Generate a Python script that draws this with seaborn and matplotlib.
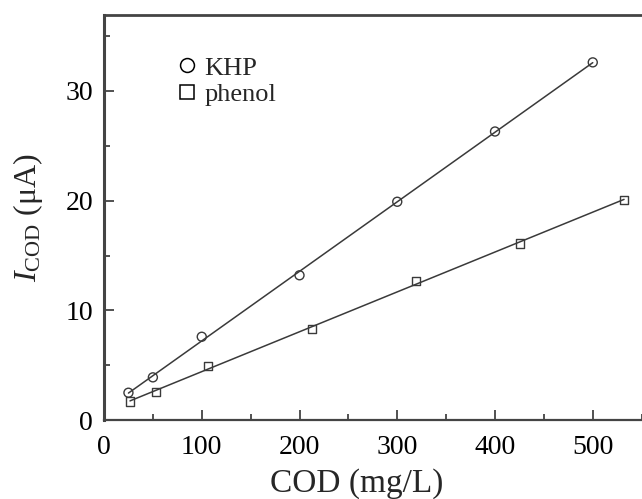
import numpy as np
import pandas as pd
import seaborn as sns
import matplotlib.pyplot as plt
from matplotlib.lines import Line2D
from matplotlib.ticker import MultipleLocator

# data
khp_cod = [25, 50, 100, 200, 300, 400, 500]
khp_i = [2.5, 3.9, 7.6, 13.2, 19.9, 26.3, 32.6]
phenol_cod = [26.6, 53.2, 106.4, 212.8, 319.2, 425.6, 532]
phenol_i = [1.7, 2.6, 4.9, 8.3, 12.7, 16.1, 20.1]

df_khp = pd.DataFrame({'cod': khp_cod, 'i': khp_i})
df_phenol = pd.DataFrame({'cod': phenol_cod, 'i': phenol_i})

sns.set_style('ticks')
plt.rcParams['font.family'] = ['Liberation Serif', 'DejaVu Serif']
plt.rcParams['mathtext.fontset'] = 'custom'
plt.rcParams['mathtext.rm'] = 'Liberation Serif'
plt.rcParams['mathtext.it'] = 'Liberation Serif:italic'

fig = plt.figure(figsize=(6.42, 4.99), dpi=100)
# right spine falls just outside the canvas, like the cropped original
ax = fig.add_axes([0.162, 0.158, 0.842, 0.8116])

line_col = '#3a3a3a'
# fitted lines
sns.regplot(x='cod', y='i', data=df_khp, scatter=False, ci=None, ax=ax,
            color=line_col, line_kws={'lw': 1.1})
sns.regplot(x='cod', y='i', data=df_phenol, scatter=False, ci=None, ax=ax,
            color=line_col, line_kws={'lw': 1.1})
# hollow markers
sns.scatterplot(x='cod', y='i', data=df_khp, marker='o', s=42, ax=ax,
                facecolor='none', edgecolor=line_col, linewidth=1.0, zorder=3)
sns.scatterplot(x='cod', y='i', data=df_phenol, marker='s', s=34, ax=ax,
                facecolor='none', edgecolor=line_col, linewidth=1.0, zorder=3)

ax.set_xlim(0, 553)
ax.set_ylim(0, 36.9)
ax.xaxis.set_major_locator(MultipleLocator(100))
ax.xaxis.set_minor_locator(MultipleLocator(50))
ax.yaxis.set_major_locator(MultipleLocator(10))
ax.yaxis.set_minor_locator(MultipleLocator(5))
ax.tick_params(which='both', direction='in', colors='#333333', labelcolor='black',
               labelsize=20, width=1.2)
ax.tick_params(which='major', length=7)
ax.tick_params(which='minor', length=4)
ax.tick_params(axis='x', pad=11)
ax.tick_params(axis='y', pad=8)

for side in ['left', 'bottom', 'top', 'right']:
    ax.spines[side].set_color('#444444')
ax.spines['left'].set_linewidth(2.2)
ax.spines['bottom'].set_linewidth(1.6)
ax.spines['top'].set_linewidth(2.0)
ax.spines['right'].set_linewidth(2.0)

ax.set_xlabel('COD (mg/L)', fontsize=24)
ax.xaxis.set_label_coords(0.467, -0.118)
ax.set_ylabel(r'$I_{\rm COD}$ (μA)', fontsize=23)
ax.yaxis.set_label_coords(-0.11, 0.5)

handles = [
    Line2D([], [], ls='none', marker='o', ms=10, mfc='none', mec='black', mew=1.1),
    Line2D([], [], ls='none', marker='s', ms=10, mfc='none', mec='black', mew=1.1),
]
ax.legend(handles, ['KHP', 'phenol'], loc='upper left', bbox_to_anchor=(0.11, 0.925),
          frameon=False, fontsize=19, handletextpad=0.15, labelspacing=0.12,
          handlelength=1.0, borderaxespad=0)

fig.savefig('out.png', dpi=100)
